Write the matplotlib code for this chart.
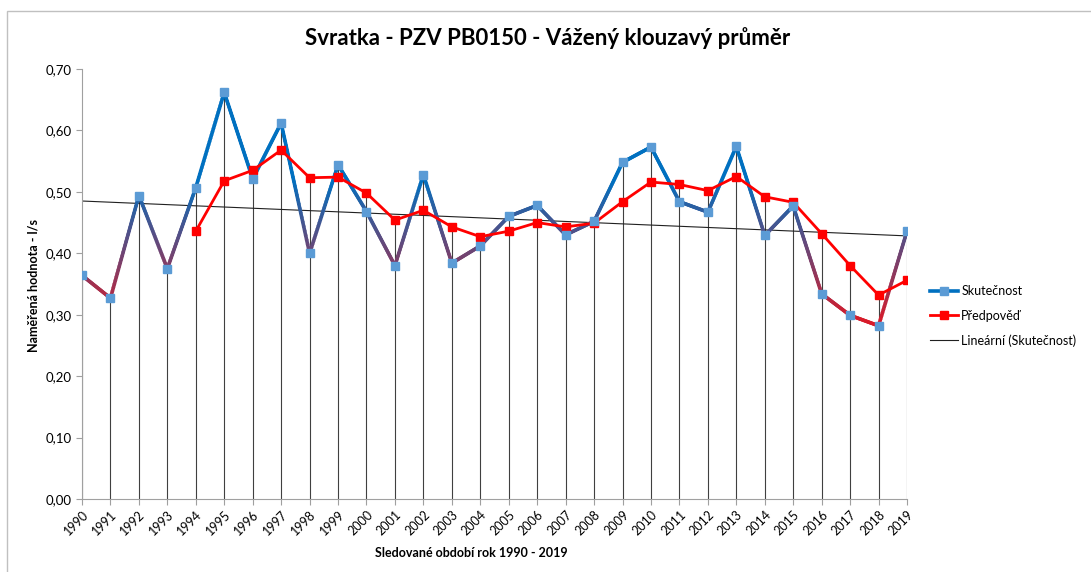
import numpy as np
import matplotlib
matplotlib.use("Agg")
import matplotlib.pyplot as plt
from matplotlib.collections import LineCollection
from matplotlib.colors import to_rgb
from matplotlib.lines import Line2D
from matplotlib.patches import Rectangle

plt.rcParams['font.family'] = ['Lato', 'DejaVu Sans']

# data
roky = list(range(1990, 2020))
skutecnost = [0.364, 0.327, 0.494, 0.375, 0.507, 0.662, 0.521, 0.612, 0.400, 0.544,
              0.468, 0.380, 0.528, 0.384, 0.412, 0.460, 0.478, 0.430, 0.452, 0.548,
              0.573, 0.484, 0.467, 0.574, 0.429, 0.477, 0.334, 0.299, 0.282, 0.436]
predpoved_roky = list(range(1994, 2020))
predpoved = [0.436, 0.518, 0.535, 0.568, 0.523, 0.524, 0.498, 0.454, 0.470, 0.443,
             0.427, 0.436, 0.450, 0.443, 0.449, 0.484, 0.516, 0.512, 0.502, 0.525,
             0.492, 0.483, 0.432, 0.380, 0.332, 0.356]

x = np.array(roky)
y = np.array(skutecnost)

fig = plt.figure(figsize=(10.91, 5.72), dpi=100)
ax = fig.add_axes([82 / 1091, 1 - 499 / 572, (907 - 82) / 1091, (499 - 69) / 572])

# chart border
fig.patches.append(Rectangle((7 / 1091, -0.05), 1.2, 1 - 11 / 572 + 0.05,
                             transform=fig.transFigure, fill=False,
                             edgecolor='#c0c0c0', linewidth=1))

# drop lines
top = {r: v for r, v in zip(roky, skutecnost)}
for r, v in zip(predpoved_roky, predpoved):
    top[r] = max(top[r], v)
ax.vlines(roky, 0, [top[r] for r in roky], color='#404040', linewidth=0.8, zorder=1)

# trend
k, q = np.polyfit(x, y, 1)
ax.plot(x, k * x + q, color='#202020', linewidth=0.8, zorder=2)

# gradient line for Skutečnost (red at low values, blue at high)
red = np.array(to_rgb('#d81b2a'))
blue = np.array(to_rgb('#0070c0'))
segs, cols = [], []
for i in range(len(x) - 1):
    t = np.linspace(0, 1, 30)
    xs = x[i] + (x[i + 1] - x[i]) * t
    ys = y[i] + (y[i + 1] - y[i]) * t
    for j in range(len(t) - 1):
        segs.append([(xs[j], ys[j]), (xs[j + 1], ys[j + 1])])
        f = np.clip(((ys[j] + ys[j + 1]) / 2 - 0.29) / (0.52 - 0.29), 0, 1)
        cols.append(red * (1 - f) + blue * f)
lc = LineCollection(segs, colors=cols, linewidths=2.6, capstyle='round', zorder=3)
ax.add_collection(lc)
ax.plot(x, y, linestyle='none', marker='s', markersize=6,
        markerfacecolor='#5b9bd5', markeredgecolor='#5b9bd5', zorder=5)

ax.plot(predpoved_roky, predpoved, color='#ff0000', linewidth=2, marker='s',
        markersize=6, zorder=4)

ax.set_xlim(1990, 2019)
ax.set_ylim(0, 0.70)
ax.set_xticks(roky)
ax.set_xticklabels([str(r) for r in roky], rotation=45, ha='right',
                   rotation_mode='anchor', fontsize=9)
ax.set_yticks(np.arange(0, 0.71, 0.1))
ax.set_yticklabels([f"{v:.2f}".replace('.', ',') for v in np.arange(0, 0.71, 0.1)],
                   fontsize=9.5)
ax.tick_params(axis='both', color='#a0a0a0', length=4)
ax.tick_params(axis='x', direction='out', pad=3)
for s in ['top', 'right']:
    ax.spines[s].set_visible(False)
for s in ['left', 'bottom']:
    ax.spines[s].set_color('#a0a0a0')

fig.text(548 / 1091, 1 - 38 / 572, 'Svratka - PZV PB0150 - Vážený klouzavý průměr',
         ha='center', va='center', fontsize=16, fontweight='bold')
fig.text(471 / 1091, 1 - 553 / 572, 'Sledované období rok 1990 - 2019',
         ha='center', va='center', fontsize=9, fontweight='bold')
fig.text(34 / 1091, 1 - 285 / 572, 'Naměřená hodnota - l/s', rotation=90,
         ha='center', va='center', fontsize=9, fontweight='bold')

handles = [
    Line2D([], [], color='#0070c0', linewidth=2.6, marker='s', markersize=6,
           markerfacecolor='#5b9bd5', markeredgecolor='#5b9bd5'),
    Line2D([], [], color='#ff0000', linewidth=2, marker='s', markersize=6),
    Line2D([], [], color='#202020', linewidth=0.8),
]
fig.legend(handles, ['Skutečnost', 'Předpověď', 'Lineární (Skutečnost)'],
           loc='center left', bbox_to_anchor=(930 / 1091, 1 - 316 / 572),
           frameon=False, fontsize=9, handlelength=2.2, handletextpad=0.3,
           labelspacing=1.0, borderaxespad=0, borderpad=0)

fig.savefig('out.png', dpi=100)
